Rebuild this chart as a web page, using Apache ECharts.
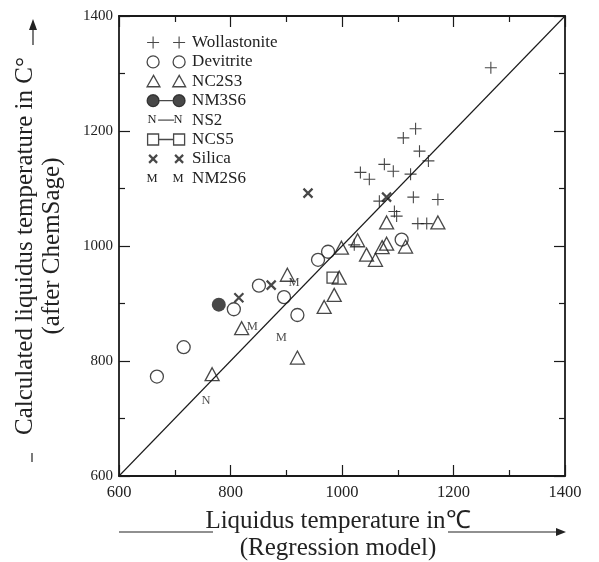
<!DOCTYPE html>
<html><head><meta charset="utf-8">
<script src="https://cdn.jsdelivr.net/npm/echarts@6/dist/echarts.min.js"></script>
<style>html,body{margin:0;padding:0;background:#fff}#c{width:599px;height:562px}</style>
</head><body><div id="c"></div>
<script>
// ---- data ----
const xTickValues = [600, 800, 1000, 1200, 1400];
const yTickValues = [600, 800, 1000, 1200, 1400];
const seriesNames = ['Wollastonite', 'Devitrite', 'NC2S3', 'NM3S6', 'NS2', 'NCS5', 'Silica', 'NM2S6'];
const wollastonite = [[1267,1310],[1132,1204],[1110,1188],[1139,1165],[1155,1148],[1076,1142],[1092,1130],[1123,1125],[1033,1128],[1049,1116],[1067,1078],[1128,1085],[1172,1081],[1094,1060],[1098,1052],[1136,1039],[1152,1039],[1022,1002]];
const devitrite = [[668,773],[716,824],[806,890],[851,931],[896,911],[920,880],[957,976],[975,990],[1107,1011]];
const nc2s3 = [[767,777],[820,857],[920,806],[902,950],[968,894],[986,915],[995,945],[999,997],[1028,1010],[1044,985],[1060,976],[1072,998],[1080,1004],[1114,999],[1080,1041],[1172,1041]];
const nm3s6 = [[779,898]];
const ns2 = [[756,731]];
const ncs5 = [[983,945]];
const silica = [[939,1092],[1080,1085],[815,910],[873,932]];
const nm2s6 = [[839,859],[891,841],[914,936]];
const diagonal = [[600,600],[1400,1400]];
const xTitle = 'Liquidus temperature in\u2103\n(Regression model)';
const yTitle = 'Calculated liquidus temperature in C\u00b0\n(after ChemSage)';

// ---- styles ----
const FONT = "'Liberation Serif','Times New Roman',serif";
const INK = '#1a1a1a';
const TXT = '#222';
const outline = {color: 'transparent', borderColor: INK, borderWidth: 1.3};

const chart = echarts.init(document.getElementById('c'), null, {renderer: 'canvas'});

function axisBase(extra) {
  return Object.assign({
    type: 'value', min: 600, max: 1400, interval: 200,
    axisLine: {show: true, onZero: false, lineStyle: {color: INK, width: 1.8}},
    axisTick: {show: true, inside: true, length: 11, lineStyle: {color: INK, width: 1.2}},
    minorTick: {show: true, splitNumber: 2, length: 6, lineStyle: {color: INK, width: 1.2}},
    splitLine: {show: false},
    minorSplitLine: {show: false}
  }, extra);
}

const labelSeries = (letter) => ({
  show: true, position: 'inside', formatter: letter,
  fontFamily: FONT, fontSize: 12.5, color: TXT
});

// legend layout
const LEG_LEFT = 146, LEG_TOP = 34, LEG_PITCH = 19.4;
const legendIcons = {
  Wollastonite: 'path://M0,0M40,13M0,6.5L12,6.5M6,0.5L6,12.5M26,6.5L38,6.5M32,0.5L32,12.5',
  Devitrite: 'path://M0,0M40,13M0,6.5a6,6 0 1,0 12,0a6,6 0 1,0 -12,0M26,6.5a6,6 0 1,0 12,0a6,6 0 1,0 -12,0',
  NC2S3: 'path://M0,0M40,13M6,0.5L12.5,12L-0.5,12ZM32,0.5L38.5,12L25.5,12Z',
  NM3S6: 'path://M0,0M40,13M0,6.5a6,6 0 1,0 12,0a6,6 0 1,0 -12,0M12,6.5L26,6.5M26,6.5a6,6 0 1,0 12,0a6,6 0 1,0 -12,0',
  NS2: 'path://M0,0M40,13M11,6.5L27,6.5',
  NCS5: 'path://M0,0M40,13M0.5,1h11v11h-11ZM11.5,6.5L26.5,6.5M26.5,1h11v11h-11Z',
  Silica: 'path://M0,0M40,13M2,2.5L10,10.5M10,2.5L2,10.5M28,2.5L36,10.5M36,2.5L28,10.5',
  NM2S6: 'path://M0,0M40,13'
};
const legendStyles = {
  Wollastonite: {color: 'transparent', borderColor: INK, borderWidth: 1.1},
  Devitrite: outline,
  NC2S3: outline,
  NM3S6: {color: INK, borderColor: INK, borderWidth: 1.2},
  NS2: {color: 'transparent', borderColor: INK, borderWidth: 1.2},
  NCS5: outline,
  Silica: {color: 'transparent', borderColor: INK, borderWidth: 2.2},
  NM2S6: {color: 'transparent', borderColor: 'transparent', borderWidth: 0}
};

const letterRows = [['N', 4], ['M', 7]];
const legendLetters = [];
letterRows.forEach(([ch, row]) => {
  [152, 178].forEach(x => legendLetters.push({
    type: 'text', x: x, y: LEG_TOP + row * LEG_PITCH + 8.5,
    style: {text: ch, fontFamily: FONT, fontSize: 12.5, fill: TXT, align: 'center', verticalAlign: 'middle'},
    z: 10
  }));
});

const plain = v => String(v);

const option = {
  backgroundColor: '#ffffff',
  animation: false,
  grid: {left: 119, right: 34, top: 16, bottom: 86, containLabel: false, outerBoundsMode: 'none'},
  legend: {
    left: LEG_LEFT, top: LEG_TOP, orient: 'vertical', padding: 0,
    itemWidth: 40, itemHeight: 13, itemGap: LEG_PITCH - 17,
    selectedMode: false,
    textStyle: {fontFamily: FONT, fontSize: 17, lineHeight: 17, color: TXT},
    data: seriesNames.map(n => ({name: n, icon: legendIcons[n], itemStyle: legendStyles[n]}))
  },
  xAxis: [
    axisBase({
      position: 'bottom',
      axisLabel: {fontFamily: FONT, fontSize: 16.5, color: TXT, margin: 8, formatter: plain},
      name: xTitle, nameLocation: 'middle', nameGap: 32,
      nameTextStyle: {fontFamily: FONT, fontSize: 25, lineHeight: 27, color: TXT, padding: [0, 8, 0, 0]}
    }),
    axisBase({position: 'top', axisLabel: {show: false}})
  ],
  yAxis: [
    axisBase({
      position: 'left',
      axisLabel: {fontFamily: FONT, fontSize: 15, color: TXT, margin: 6, formatter: plain},
      name: yTitle, nameLocation: 'middle', nameGap: 53, nameRotate: 90,
      nameTextStyle: {fontFamily: FONT, fontSize: 25, lineHeight: 27, color: TXT}
    }),
    axisBase({position: 'right', axisLabel: {show: false}})
  ],
  graphic: [
    {type: 'line', shape: {x1: 119, y1: 532, x2: 213, y2: 532}, style: {stroke: TXT, lineWidth: 1.2}},
    {type: 'line', shape: {x1: 448, y1: 532, x2: 558, y2: 532}, style: {stroke: TXT, lineWidth: 1.2}},
    {type: 'polygon', shape: {points: [[556, 528], [566, 532], [556, 536]]}, style: {fill: TXT}},
    {type: 'line', shape: {x1: 33, y1: 45, x2: 33, y2: 28}, style: {stroke: TXT, lineWidth: 1.2}},
    {type: 'polygon', shape: {points: [[29, 30], [33, 19], [37, 30]]}, style: {fill: TXT}},
    {type: 'line', shape: {x1: 32, y1: 453, x2: 32, y2: 462}, style: {stroke: TXT, lineWidth: 1.2}}
  ].concat(legendLetters),
  series: [
    {name: 'diagonal', type: 'line', data: diagonal, showSymbol: false, silent: true,
     lineStyle: {color: INK, width: 1.1}, z: 1},
    {name: 'Wollastonite', type: 'scatter', data: wollastonite, symbol: 'path://M0,6L12,6M6,0L6,12', symbolSize: 12,
     itemStyle: {color: 'transparent', borderColor: INK, borderWidth: 1.1}},
    {name: 'Devitrite', type: 'scatter', data: devitrite, symbol: 'circle', symbolSize: 13, itemStyle: outline},
    {name: 'NC2S3', type: 'scatter', data: nc2s3, symbol: 'triangle', symbolSize: [14, 13], itemStyle: outline},
    {name: 'NM3S6', type: 'scatter', data: nm3s6, symbol: 'circle', symbolSize: 14,
     itemStyle: {color: INK, borderColor: INK, borderWidth: 0}},
    {name: 'NS2', type: 'scatter', data: ns2, symbol: 'circle', symbolSize: 2,
     itemStyle: {color: 'transparent'}, label: labelSeries('N')},
    {name: 'NCS5', type: 'scatter', data: ncs5, symbol: 'rect', symbolSize: 11, itemStyle: outline},
    {name: 'Silica', type: 'scatter', data: silica, symbol: 'path://M0,0L10,10M10,0L0,10', symbolSize: 9,
     itemStyle: {color: 'transparent', borderColor: INK, borderWidth: 2.2}},
    {name: 'NM2S6', type: 'scatter', data: nm2s6, symbol: 'circle', symbolSize: 2,
     itemStyle: {color: 'transparent'}, label: labelSeries('M')}
  ].map(s => Object.assign({emphasis: {disabled: true}, xAxisIndex: 0, yAxisIndex: 0}, s))
};
chart.setOption(option);
</script>
</body></html>
